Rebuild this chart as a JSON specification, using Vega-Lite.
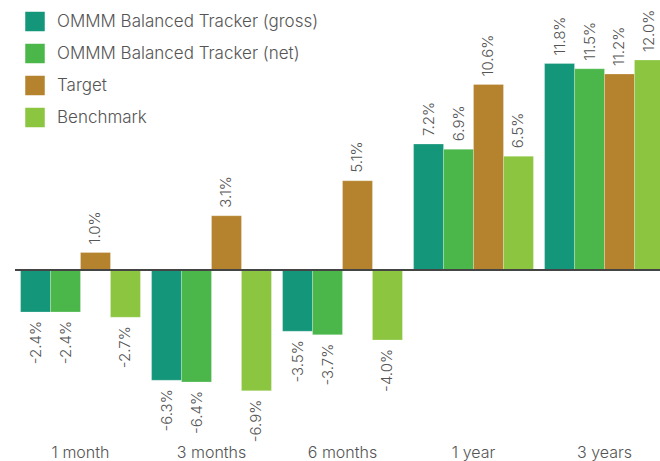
{
  "$schema": "https://vega.github.io/schema/vega-lite/v6.json",
  "width": 655,
  "height": 437.5,
  "autosize": {"type": "none"},
  "padding": {"left": 15, "top": 7.5, "right": 0, "bottom": 16},
  "background": "white",
  "config": {
    "view": {"stroke": null},
    "font": "Inter",
    "text": {"font": "Inter"}
  },
  "data": {
    "values": [
      {"period": "1 month", "series": "OMMM Balanced Tracker (gross)", "value": -2.4, "label": "-2.4%"},
      {"period": "1 month", "series": "OMMM Balanced Tracker (net)", "value": -2.4, "label": "-2.4%"},
      {"period": "1 month", "series": "Target", "value": 1.0, "label": "1.0%"},
      {"period": "1 month", "series": "Benchmark", "value": -2.7, "label": "-2.7%"},
      {"period": "3 months", "series": "OMMM Balanced Tracker (gross)", "value": -6.3, "label": "-6.3%"},
      {"period": "3 months", "series": "OMMM Balanced Tracker (net)", "value": -6.4, "label": "-6.4%"},
      {"period": "3 months", "series": "Target", "value": 3.1, "label": "3.1%"},
      {"period": "3 months", "series": "Benchmark", "value": -6.9, "label": "-6.9%"},
      {"period": "6 months", "series": "OMMM Balanced Tracker (gross)", "value": -3.5, "label": "-3.5%"},
      {"period": "6 months", "series": "OMMM Balanced Tracker (net)", "value": -3.7, "label": "-3.7%"},
      {"period": "6 months", "series": "Target", "value": 5.1, "label": "5.1%"},
      {"period": "6 months", "series": "Benchmark", "value": -4.0, "label": "-4.0%"},
      {"period": "1 year", "series": "OMMM Balanced Tracker (gross)", "value": 7.2, "label": "7.2%"},
      {"period": "1 year", "series": "OMMM Balanced Tracker (net)", "value": 6.9, "label": "6.9%"},
      {"period": "1 year", "series": "Target", "value": 10.6, "label": "10.6%"},
      {"period": "1 year", "series": "Benchmark", "value": 6.5, "label": "6.5%"},
      {"period": "3 years", "series": "OMMM Balanced Tracker (gross)", "value": 11.8, "label": "11.8%"},
      {"period": "3 years", "series": "OMMM Balanced Tracker (net)", "value": 11.5, "label": "11.5%"},
      {"period": "3 years", "series": "Target", "value": 11.2, "label": "11.2%"},
      {"period": "3 years", "series": "Benchmark", "value": 12.0, "label": "12.0%"}
    ]
  },
  "encoding": {
    "x": {
      "field": "period",
      "type": "nominal",
      "sort": ["1 month", "3 months", "6 months", "1 year", "3 years"],
      "scale": {"paddingInner": 0.085, "paddingOuter": 0.0425},
      "axis": {
        "title": null,
        "labelAngle": 0,
        "domain": false,
        "ticks": false,
        "labelPadding": 12,
        "labelFontSize": 16,
        "labelFontWeight": 300,
        "labelColor": "#555555",
        "labelBaseline": "alphabetic"
      }
    },
    "xOffset": {
      "field": "series",
      "type": "nominal",
      "sort": ["OMMM Balanced Tracker (gross)", "OMMM Balanced Tracker (net)", "Target", "Benchmark"],
      "scale": {"paddingInner": 0, "paddingOuter": 0}
    },
    "y": {
      "field": "value",
      "type": "quantitative",
      "scale": {"domain": [-10, 15], "nice": false, "zero": true},
      "axis": null
    }
  },
  "layer": [
    {
      "mark": {"type": "bar", "stroke": "white", "strokeOpacity": 0.35, "strokeWidth": 0.7},
      "encoding": {
        "color": {
          "field": "series",
          "type": "nominal",
          "scale": {
            "domain": ["OMMM Balanced Tracker (gross)", "OMMM Balanced Tracker (net)", "Target", "Benchmark"],
            "range": ["#14967A", "#4BB74A", "#B5822E", "#8CC53F"]
          },
          "legend": {
            "title": null,
            "orient": "none",
            "legendX": 10,
            "legendY": 4,
            "symbolType": "square",
            "symbolSize": 380,
            "symbolStrokeWidth": 0,
            "symbolOpacity": 1,
            "labelFontSize": 17,
            "labelFontWeight": 300,
            "labelColor": "#555555",
            "labelOffset": 12,
            "rowPadding": 12,
            "labelLimit": 400
          }
        }
      }
    },
    {
      "transform": [{"filter": "datum.value >= 0"}],
      "mark": {"type": "text", "angle": -90, "align": "left", "baseline": "middle", "dx": 8, "fontSize": 15, "fontWeight": 300, "color": "#555555"},
      "encoding": {"text": {"field": "label"}}
    },
    {
      "transform": [{"filter": "datum.value < 0"}],
      "mark": {"type": "text", "angle": -90, "align": "right", "baseline": "middle", "dx": -9, "fontSize": 15, "fontWeight": 300, "color": "#555555"},
      "encoding": {"text": {"field": "label"}}
    },
    {
      "mark": {"type": "rule", "color": "#444444", "strokeWidth": 1.5},
      "encoding": {"y": {"datum": 0}, "x": null, "xOffset": null}
    }
  ]
}
